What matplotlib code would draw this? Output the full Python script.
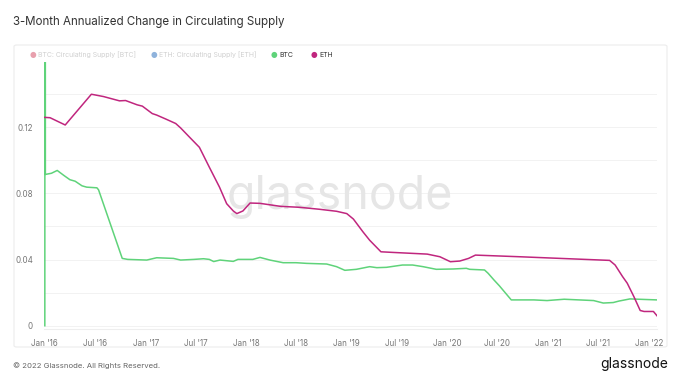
import pandas as pd
import matplotlib.pyplot as plt
import matplotlib.dates as mdates
from matplotlib.patches import FancyBboxPatch

plt.rcParams['font.family'] = ['Inter', 'DejaVu Sans']

# BTC 3-month annualized change (first two points are the start-up spike)
btc_dates = ['2016-01-01', '2016-01-02', '2016-01-03', '2016-01-25', '2016-02-15', '2016-03-10',
             '2016-04-01', '2016-04-20', '2016-05-15', '2016-06-01', '2016-07-08', '2016-07-14',
             '2016-10-08', '2016-10-28', '2017-01-05', '2017-02-10', '2017-04-12', '2017-05-08',
             '2017-06-25', '2017-07-30', '2017-08-20', '2017-09-05', '2017-09-28', '2017-11-15',
             '2017-12-02', '2018-01-25', '2018-02-20', '2018-03-28', '2018-05-15', '2018-07-01',
             '2018-08-08', '2018-10-20', '2018-11-25', '2018-12-25', '2019-02-05', '2019-03-25',
             '2019-04-20', '2019-05-25', '2019-07-22', '2019-08-28', '2019-10-05', '2019-11-22',
             '2020-01-22', '2020-03-10', '2020-03-22', '2020-05-15', '2020-05-28', '2020-06-18',
             '2020-07-08', '2020-08-20', '2020-11-10', '2020-12-28', '2021-02-28', '2021-06-15',
             '2021-07-20', '2021-08-25', '2021-09-15', '2021-10-25', '2021-11-25', '2022-01-31']
btc_values = [0.0, 0.6, 0.0915, 0.0922, 0.0939, 0.0909,
              0.0883, 0.0874, 0.0846, 0.0838, 0.0834, 0.0822,
              0.0407, 0.0401, 0.0397, 0.0411, 0.0407, 0.0397,
              0.0401, 0.0405, 0.0401, 0.0388, 0.0397, 0.0389,
              0.0401, 0.0401, 0.0413, 0.0397, 0.0381, 0.0381,
              0.0377, 0.0373, 0.0357, 0.0335, 0.0341, 0.0357,
              0.0351, 0.0353, 0.0367, 0.0367, 0.0357, 0.0341,
              0.0343, 0.0347, 0.0341, 0.0337, 0.0317, 0.0277,
              0.0241, 0.0156, 0.0156, 0.0152, 0.0160, 0.0152,
              0.0137, 0.0140, 0.0149, 0.0162, 0.0160, 0.0156]

# ETH 3-month annualized change
eth_dates = ['2016-01-01', '2016-01-20', '2016-03-15', '2016-06-18', '2016-08-01', '2016-09-28',
             '2016-10-20', '2016-12-01', '2016-12-20', '2017-01-25', '2017-02-10', '2017-03-15',
             '2017-04-20', '2017-05-08', '2017-06-10', '2017-07-15', '2017-08-20', '2017-09-26',
             '2017-10-22', '2017-11-15', '2017-11-28', '2017-12-20', '2018-01-15', '2018-02-20',
             '2018-05-05', '2018-07-15', '2018-09-25', '2018-11-25', '2019-01-01', '2019-01-25',
             '2019-03-01', '2019-03-25', '2019-05-05', '2019-06-20', '2019-10-20', '2019-12-05',
             '2020-01-12', '2020-02-15', '2020-03-18', '2020-04-12', '2020-06-15', '2020-09-20',
             '2021-01-01', '2021-08-12', '2021-09-01', '2021-09-28', '2021-10-15', '2021-11-08',
             '2021-12-01', '2021-12-15', '2022-01-18', '2022-01-31']
eth_values = [0.1260, 0.1258, 0.1214, 0.1400, 0.1386, 0.1360,
              0.1362, 0.1336, 0.1328, 0.1283, 0.1274, 0.1250,
              0.1223, 0.1196, 0.1139, 0.1079, 0.0959, 0.0838,
              0.0738, 0.0694, 0.0678, 0.0694, 0.0742, 0.0740,
              0.0722, 0.0716, 0.0704, 0.0692, 0.0678, 0.0645,
              0.0567, 0.0517, 0.0447, 0.0443, 0.0433, 0.0417,
              0.0387, 0.0391, 0.0407, 0.0427, 0.0423, 0.0417,
              0.0410, 0.0395, 0.0367, 0.0297, 0.0257, 0.0176,
              0.0092, 0.0086, 0.0086, 0.0060]

legend_labels = ['BTC: Circulating Supply [BTC]', 'ETH: Circulating Supply [ETH]', 'BTC', 'ETH']
legend_colors = ['#e8a0ad', '#8fb3dc', '#5fd37a', '#c0267e']
legend_text_colors = ['#d0d0d0', '#d0d0d0', '#333333', '#333333']

btc = pd.Series(btc_values, index=pd.to_datetime(btc_dates))
eth = pd.Series(eth_values, index=pd.to_datetime(eth_dates))

fig = plt.figure(figsize=(6.8, 3.83), dpi=100)

# light frame around the chart
frame = FancyBboxPatch((14 / 680, 1 - 347 / 383), 653 / 680, 302 / 383,
                       boxstyle='round,pad=0,rounding_size=0.004',
                       transform=fig.transFigure, facecolor='none',
                       edgecolor='#ececec', linewidth=0.8, zorder=-1)
fig.patches.append(frame)

ax = fig.add_axes([44 / 680, 1 - 329 / 383, 613 / 680, 267 / 383])
ax.set_facecolor('none')

ax.plot(btc.index, btc.values, color='#5fd37a', linewidth=1.1, zorder=3)
ax.plot(eth.index, eth.values, color='#c0267e', linewidth=1.1, zorder=3)

ax.set_xlim(pd.Timestamp('2015-12-29'), pd.Timestamp('2022-01-31'))
ax.set_ylim(-0.002, 0.1595)

ax.set_yticks([0, 0.04, 0.08, 0.12])
ax.set_yticklabels(['0', '0.04', '0.08', '0.12'])
ax.set_yticks([0.02, 0.06, 0.10, 0.14], minor=True)
ax.grid(axis='y', which='both', color='#f2f2f2', linewidth=0.7)
ax.set_axisbelow(True)

ticks = pd.date_range('2016-01-01', '2022-01-01', freq='6MS')
ax.set_xticks(ticks)
ax.xaxis.set_major_formatter(mdates.DateFormatter("%b '%y"))

ax.tick_params(axis='both', which='both', length=0, labelsize=5.8, labelcolor='#777777')
ax.tick_params(axis='y', pad=8)
ax.tick_params(axis='x', pad=7)
for s in ['top', 'right', 'left']:
    ax.spines[s].set_visible(False)
ax.spines['bottom'].set_color('#eeeeee')
ax.spines['bottom'].set_linewidth(0.8)

# watermark, behind the lines
ax.text(296 / 613, (329 - 197) / 267, 'glassnode', fontsize=33.5, color='#e6e6e6',
        ha='center', va='center', transform=ax.transAxes, zorder=1)

# legend row
xs = [33, 154, 274, 314]
for x, lab, c, tc in zip(xs, legend_labels, legend_colors, legend_text_colors):
    fig.text(x / 680, 1 - 55 / 383, '\u25cf', color=c, fontsize=5.5, ha='center', va='center',
             family=['DejaVu Sans'])
    fig.text((x + 5) / 680, 1 - 55 / 383, lab, color=tc, fontsize=5.0, ha='left', va='center')

fig.text(13 / 680, 1 - 22 / 383, '3-Month Annualized Change in Circulating Supply',
         fontsize=8.3, color='#333333', ha='left', va='center')
fig.text(13 / 680, 1 - 366 / 383, '\u00a9 2022 Glassnode. All Rights Reserved.',
         fontsize=5.6, color='#666666', ha='left', va='center')
fig.text(668 / 680, 1 - 364 / 383, 'glassnode', fontsize=10, color='#111111',
         ha='right', va='center')

fig.savefig('out.png', dpi=100)
